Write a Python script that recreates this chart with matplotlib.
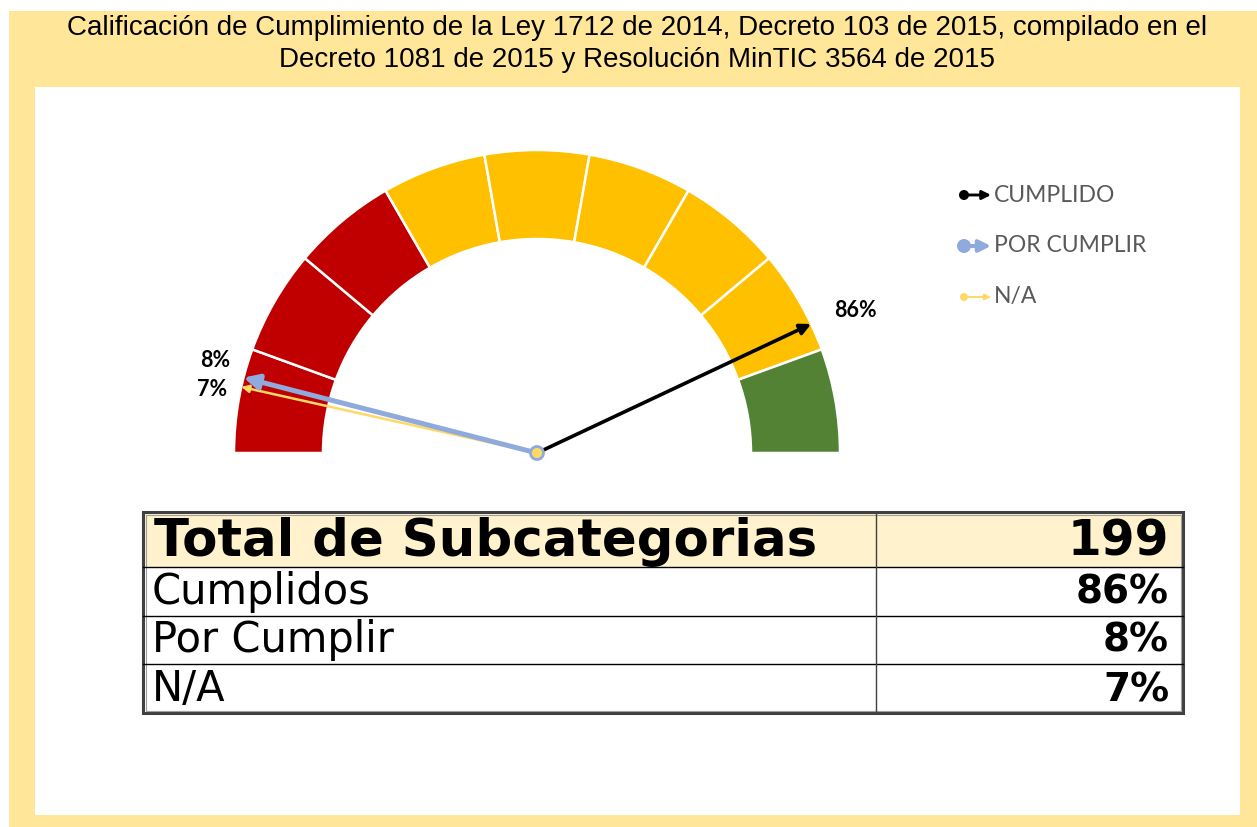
import numpy as np
import matplotlib.pyplot as plt
from matplotlib.patches import Wedge, Rectangle, Circle, FancyArrowPatch

# Data
titulo = ("Calificación de Cumplimiento de la Ley 1712 de 2014, Decreto 103 de 2015, compilado en el\n"
          "Decreto 1081 de 2015 y Resolución MinTIC 3564 de 2015")
categorias = ["CUMPLIDO", "POR CUMPLIR", "N/A"]
porcentajes = [86, 8, 7]
total_subcategorias = 199
filas_tabla = ["Cumplidos", "Por Cumplir", "N/A"]
# gauge bands, left to right (9 bands of 20 degrees)
colores_bandas = ["#C00000"] * 3 + ["#FFC000"] * 5 + ["#548235"]

# styles
col_flecha = ["black", "#8FAADC", "#FFD966"]
lw_flecha = [2.6, 3.6, 1.8]
head_flecha = [16, 22, 11]
off_label = [(44, -13), (-28, -17), (-29, 3)]

W, H = 1257, 827
fig = plt.figure(figsize=(W / 100, H / 100), dpi=100, facecolor="white")
ax = fig.add_axes([0, 0, 1, 1])
ax.set_xlim(0, W)
ax.set_ylim(H, 0)
ax.axis("off")

# frame
ax.add_patch(Rectangle((9, 11), W - 9, H - 11, facecolor="#FFE699", edgecolor="none"))
ax.add_patch(Rectangle((35, 87), 1205, 728, facecolor="white", edgecolor="none"))

ax.text(637, 44, titulo, ha="center", va="center", fontsize=20,
        family="Liberation Sans", linespacing=1.32, color="black")

# gauge
cx, cy = 537, 453
R, r = 303, 214
n = len(colores_bandas)
step = 180 / n
for i, c in enumerate(colores_bandas):
    a1 = 180 - (i + 1) * step
    a2 = 180 - i * step
    ax.add_patch(Wedge((cx, cy), R, -a2, -a1, width=R - r, facecolor=c,
                       edgecolor="white", linewidth=1.8))

# needles (drawn from back to front: N/A, por cumplir, cumplido)
for k in [2, 1, 0]:
    ang = np.radians(180 * (1 - porcentajes[k] / 100))
    tip = (cx + R * np.cos(ang), cy - R * np.sin(ang))
    ax.add_patch(FancyArrowPatch((cx, cy), tip, arrowstyle="-|>",
                                 mutation_scale=head_flecha[k], color=col_flecha[k],
                                 lw=lw_flecha[k], shrinkA=0, shrinkB=0, zorder=4))
    ax.text(tip[0] + off_label[k][0], tip[1] + off_label[k][1], f"{porcentajes[k]}%",
            ha="center", va="center", fontsize=15.5, fontweight="bold",
            family="Lato", color="black", zorder=5)
ax.add_patch(Circle((cx, cy), 6.5, facecolor="#FFD966", edgecolor="#8FAADC",
                    linewidth=2, zorder=6))

# legend
ley_y = [195, 246, 297]
ley_dot = [5, 7, 4]
for k, cat in enumerate(categorias):
    y = ley_y[k]
    ax.add_patch(FancyArrowPatch((964, y), (991, y), arrowstyle="-|>",
                                 mutation_scale=head_flecha[k] * 0.8, color=col_flecha[k],
                                 lw=lw_flecha[k] * 0.8, shrinkA=0, shrinkB=0))
    ax.add_patch(Circle((964, y), ley_dot[k], facecolor=col_flecha[k], edgecolor="none"))
    ax.text(994, y, cat, ha="left", va="center", fontsize=16.5, family="Lato",
            color="#595959")

# table
tx0, tx1, tcol = 143, 1183, 876
filas_y = [512, 567, 616, 664, 713]
ax.add_patch(Rectangle((tx0, filas_y[0]), tx1 - tx0, filas_y[1] - filas_y[0],
                       facecolor="#FFF2CC", edgecolor="none"))
for y in filas_y[1:-1]:
    ax.plot([tx0, tx1], [y, y], color="black", lw=1)
ax.plot([tcol, tcol], [filas_y[0], filas_y[-1]], color="#404040", lw=1)
ax.add_patch(Rectangle((tx0, filas_y[0]), tx1 - tx0, filas_y[-1] - filas_y[0],
                       facecolor="none", edgecolor="#404040", lw=2.2))
ax.add_patch(Rectangle((tx0 + 2.5, filas_y[0] + 2.5), tx1 - tx0 - 5, filas_y[-1] - filas_y[0] - 5,
                       facecolor="none", edgecolor="#A0A0A0", lw=0.8))

# text baselines sit ~11 px above each row's bottom line
ax.text(154, filas_y[1] - 11, "Total de Subcategorias", ha="left", va="baseline", fontsize=37,
        fontweight="bold", family="DejaVu Sans")
ax.text(1169, filas_y[1] - 11, str(total_subcategorias), ha="right", va="baseline", fontsize=35,
        fontweight="bold", family="DejaVu Sans")
for k, lab in enumerate(filas_tabla):
    yb = filas_y[k + 2] - 12
    ax.text(152, yb, lab, ha="left", va="baseline", fontsize=30, family="DejaVu Sans")
    ax.text(1169, yb, f"{porcentajes[k]}%", ha="right", va="baseline", fontsize=28,
            fontweight="bold", family="DejaVu Sans")

fig.savefig("out.png", dpi=100, facecolor=fig.get_facecolor())
